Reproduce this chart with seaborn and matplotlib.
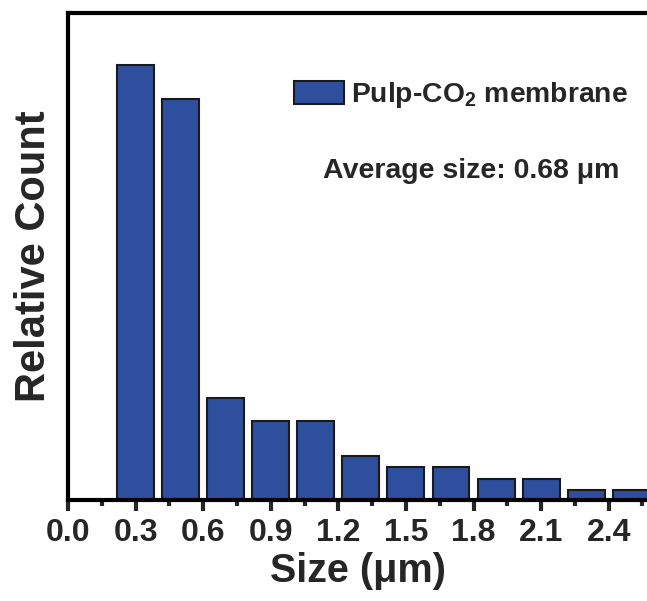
import matplotlib
matplotlib.use("Agg")
import matplotlib.pyplot as plt
import matplotlib.patches as mpatches
from matplotlib.ticker import MultipleLocator
import pandas as pd
import seaborn as sns

# bin centres (um) and relative counts
sizes = [0.3, 0.5, 0.7, 0.9, 1.1, 1.3, 1.5, 1.7, 1.9, 2.1, 2.3, 2.5]
counts = [39.9, 36.8, 9.4, 7.25, 7.25, 4.05, 3.0, 3.0, 1.95, 1.95, 0.95, 0.95]
series_label = r"Pulp-CO$_\mathbf{2}$ membrane"
note = "Average size: 0.68 \u03bcm"

bar_color = "#2E4F9E"

sns.set_style("ticks")
plt.rcParams["font.family"] = ["Liberation Sans", "DejaVu Sans"]
plt.rcParams["font.weight"] = "bold"
plt.rcParams["mathtext.fontset"] = "custom"
plt.rcParams["mathtext.rm"] = "Liberation Sans:bold"
plt.rcParams["mathtext.bf"] = "Liberation Sans:bold"

df = pd.DataFrame({"size": sizes, "count": counts})

fig = plt.figure(figsize=(6.47, 6.01), dpi=100)
ax = fig.add_axes([68 / 647, 101 / 601, 1 - 68 / 647, 487 / 601])

sns.barplot(data=df, x="size", y="count", native_scale=True, width=0.82,
            color=bar_color, edgecolor="#1a1a1a", linewidth=1.5,
            saturation=1, ax=ax)

ax.set_xlim(0, 2.57)
ax.set_ylim(0, 44.7)
ax.xaxis.set_major_locator(MultipleLocator(0.3))
ax.xaxis.set_minor_locator(MultipleLocator(0.15))
ax.xaxis.set_major_formatter(plt.FuncFormatter(lambda v, p: f"{v:.1f}"))
ax.set_yticks([])

for side in ["left", "bottom", "top"]:
    ax.spines[side].set_linewidth(3)
    ax.spines[side].set_color("black")
ax.spines["right"].set_visible(False)

ax.tick_params(axis="x", which="major", length=8, width=3, labelsize=23, pad=5)
ax.tick_params(axis="x", which="minor", length=4, width=3)
for lab in ax.get_xticklabels():
    lab.set_fontweight("bold")

ax.set_xlabel("Size (\u03bcm)", fontsize=28.5, fontweight="bold", labelpad=3)
ax.set_ylabel("Relative Count", fontsize=30, fontweight="bold", labelpad=10)

handle = mpatches.Patch(facecolor=bar_color, edgecolor="#1a1a1a", linewidth=1.5,
                        label=series_label)
ax.legend(handles=[handle], loc="upper left", bbox_to_anchor=(0.37, 0.885),
          frameon=False, handlelength=1.8, handleheight=0.9,
          handletextpad=0.25, borderaxespad=0, prop={"weight": "bold", "size": 20.3})

ax.text(0.44, 0.675, note, transform=ax.transAxes, fontsize=20.5,
        fontweight="bold", ha="left", va="center")

fig.savefig("out.png", dpi=100)
